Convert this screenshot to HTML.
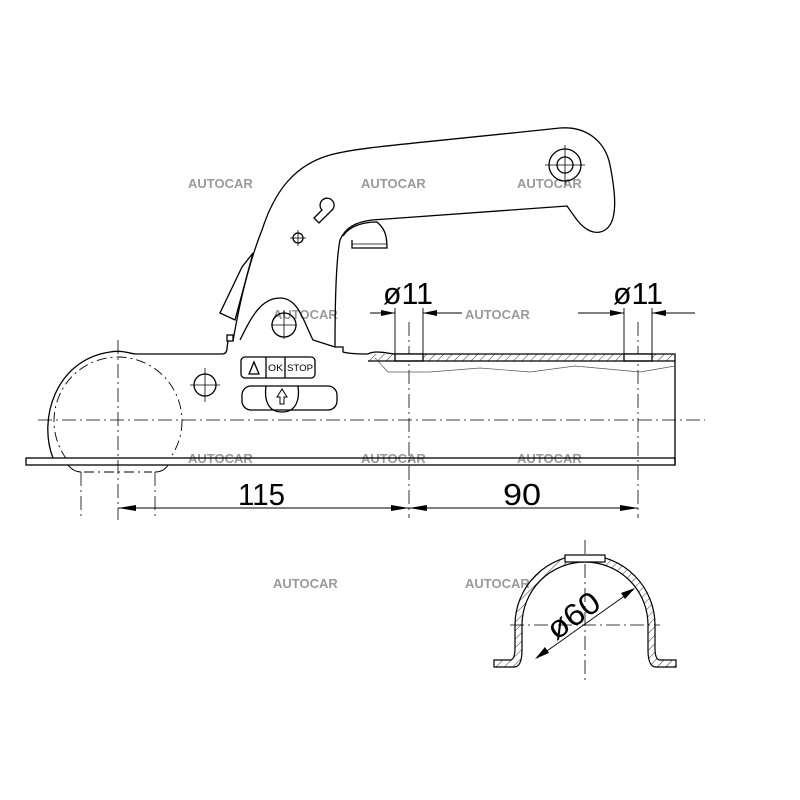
<!DOCTYPE html>
<html><head><meta charset="utf-8"><style>
html,body{margin:0;padding:0;background:#fff;}
svg{display:block;}
.w{font-family:"Liberation Sans",sans-serif;font-weight:bold;font-size:13px;fill:#9a9a9a;}
.d{font-family:"Liberation Sans",sans-serif;font-size:31px;fill:#000;}
.s{font-family:"Liberation Sans",sans-serif;font-size:9px;fill:#000;}
</style></head><body>
<svg width="800" height="800" viewBox="0 0 800 800" xmlns="http://www.w3.org/2000/svg">
<defs>
<pattern id="h" width="6" height="6" patternUnits="userSpaceOnUse" patternTransform="rotate(45)">
<line x1="0" y1="0" x2="0" y2="6" stroke="#000" stroke-width="0.8"/>
</pattern>
<clipPath id="cb"><rect x="0" y="0" width="800" height="458"/></clipPath>
</defs>
<rect width="800" height="800" fill="#fff"/>
<g class="w">
<text x="188" y="188">AUTOCAR</text><text x="361" y="188">AUTOCAR</text><text x="517" y="188">AUTOCAR</text>
<text x="273" y="319">AUTOCAR</text><text x="465" y="319">AUTOCAR</text>
<text x="188" y="463">AUTOCAR</text><text x="361" y="463">AUTOCAR</text><text x="517" y="463">AUTOCAR</text>
<text x="273" y="588">AUTOCAR</text><text x="465" y="588">AUTOCAR</text>
</g>
<g fill="none" stroke="#000" stroke-width="1.3">
<g stroke-width="0.8" stroke-dasharray="14,4,2,4">
<line x1="38" y1="420" x2="705" y2="420"/>
<line x1="118" y1="340" x2="118" y2="520"/>
<line x1="409" y1="322" x2="409" y2="518"/>
<line x1="638" y1="322" x2="638" y2="518"/>
<line x1="585" y1="540" x2="585" y2="680"/>
<line x1="510" y1="625" x2="660" y2="625"/>
</g>
<g stroke-width="0.9" stroke-dasharray="10,4,2,4">
<circle cx="118" cy="421" r="64" clip-path="url(#cb)"/>
<line x1="84" y1="472" x2="152" y2="472"/>
</g>
<path d="M53,458 C38,420 55,360 110,352 C122,350 128,353 135,354 L222,354 Q227,354 227,348 L228,341"/>
<rect x="227" y="335" width="6" height="6"/>
<path d="M233,341 C240,300 250,260 262,230 C275,190 295,165 330,155 C360,147 400,145 560,128 C585,126 605,140 610,165 C616,195 618,222 605,230 C595,236 585,230 577,220 L567,206 L372,220 C355,222 345,228 340,240 C336,260 335,300 335,347 L343,347 L343,352 C350,354 360,354 368,354"/>
<path d="M220,313 L235,320 L253,253 L242,267 Z"/>
<path d="M240,340 C250,320 260,298 280,298 C298,298 303,320 313,340 L335,347"/>
<circle cx="284" cy="325" r="12"/><line x1="271" y1="325" x2="297" y2="325" stroke-width="0.8"/><line x1="284" y1="311" x2="284" y2="339" stroke-width="0.8"/>
<path d="M343,236 C350,225 365,222 377,222 C384,228 387,234 387,248 L352,248 L352,240"/>
<line x1="352" y1="244" x2="387" y2="244" stroke-width="0.8"/>
<path d="M322,210 A7,7 0 1 1 331,211 L319,223 L314,218 Z"/>
<circle cx="298" cy="238" r="5"/><line x1="290" y1="238" x2="306" y2="238" stroke-width="0.8"/><line x1="298" y1="230" x2="298" y2="246" stroke-width="0.8"/>
<circle cx="565" cy="165" r="16"/><circle cx="565" cy="165" r="8"/>
<line x1="545" y1="165" x2="585" y2="165" stroke-width="0.8"/><line x1="565" y1="145" x2="565" y2="185" stroke-width="0.8"/>
<circle cx="205" cy="385" r="11"/><line x1="190" y1="385" x2="220" y2="385" stroke-width="0.8"/><line x1="205" y1="368" x2="205" y2="402" stroke-width="0.8"/>
<rect x="241" y="357" width="74" height="21" rx="4"/>
<line x1="266" y1="357" x2="266" y2="378"/><line x1="285" y1="357" x2="285" y2="378"/>
<path d="M249,374 L254,362 L259,374 Z"/>
<rect x="242" y="386" width="95" height="24" rx="9"/>
<path d="M266,386 C264,400 268,412 282,412 C296,412 300,400 298,386"/>
<path d="M280,404 L280,397 L277,397 L282,389 L287,397 L284,397 L284,404 Z" stroke-width="1"/>
<path d="M368,354 C375,350 385,353 395,354 L675,354 L675,465"/>
<rect x="368" y="354" width="307" height="7" fill="url(#h)" stroke="none"/>
<rect x="395" y="354" width="28" height="7" fill="#fff" stroke="#000"/>
<rect x="624" y="354" width="28" height="7" fill="#fff" stroke="#000"/>
<line x1="368" y1="361" x2="675" y2="361"/>
<path d="M375,358 L388,372 L430,372 L480,368 L530,372 L575,366 L640,372 L675,366" stroke-width="0.7" stroke="#555"/>
<rect x="26" y="458" width="649" height="7"/>
<line x1="81" y1="472" x2="81" y2="518" stroke-width="0.8" stroke-dasharray="14,4,2,4"/>
<line x1="155" y1="472" x2="155" y2="518" stroke-width="0.8" stroke-dasharray="14,4,2,4"/>
<path d="M68,465 C72,470 76,472 81,472 M155,472 C160,472 165,470 168,465" stroke-width="1"/>
<g stroke-width="0.9">
<line x1="395" y1="308" x2="395" y2="354"/><line x1="423" y1="308" x2="423" y2="354"/>
<line x1="370" y1="313" x2="395" y2="313"/><line x1="423" y1="313" x2="462" y2="313"/>
<line x1="624" y1="308" x2="624" y2="354"/><line x1="652" y1="308" x2="652" y2="354"/>
<line x1="578" y1="313" x2="624" y2="313"/><line x1="652" y1="313" x2="695" y2="313"/>
<line x1="118" y1="508" x2="409" y2="508"/><line x1="409" y1="508" x2="638" y2="508"/>
</g>
</g>
<text class="s" x="268" y="371" textLength="15" lengthAdjust="spacingAndGlyphs">OK</text>
<text class="s" x="287" y="371" textLength="26" lengthAdjust="spacingAndGlyphs">STOP</text>
<g fill="#000">
<path d="M395,313 L381,310 L381,316 Z"/><path d="M423,313 L437,310 L437,316 Z"/>
<path d="M624,313 L610,310 L610,316 Z"/><path d="M652,313 L666,310 L666,316 Z"/>
<path d="M118,508 L136,505 L136,511 Z"/><path d="M409,508 L391,505 L391,511 Z"/>
<path d="M409,508 L427,505 L427,511 Z"/><path d="M638,508 L620,505 L620,511 Z"/>
</g>
<text class="d" x="383" y="304" textLength="50" lengthAdjust="spacingAndGlyphs">ø11</text>
<text class="d" x="613" y="304" textLength="50" lengthAdjust="spacingAndGlyphs">ø11</text>
<text class="d" x="238" y="505" textLength="47" lengthAdjust="spacingAndGlyphs">115</text>
<text class="d" x="503" y="505" textLength="38" lengthAdjust="spacingAndGlyphs">90</text>
<g stroke="#000" stroke-width="1.2">
<path d="M494,667 L494,660 L510,660 C514,660 515,655 515,648 L515,625 A70,70 0 0 1 655,625 L655,648 C655,655 656,660 660,660 L676,660 L676,667 L656,667 C650,667 648,660 648,650 L648,625 A63,63 0 0 0 522,625 L522,650 C522,660 520,667 514,667 Z" fill="url(#h)"/>
<rect x="565" y="555" width="40" height="7" fill="#fff"/>
</g>
<g stroke="#000" stroke-width="0.9"><line x1="537" y1="658" x2="633" y2="590"/></g>
<path d="M535,659 L545,647 L549,653 Z M635,588 L621,593 L625,599 Z" fill="#000"/>
<text class="d" x="0" y="0" transform="translate(556,641) rotate(-36)" textLength="58" lengthAdjust="spacingAndGlyphs">ø60</text>
</svg>
</body></html>
